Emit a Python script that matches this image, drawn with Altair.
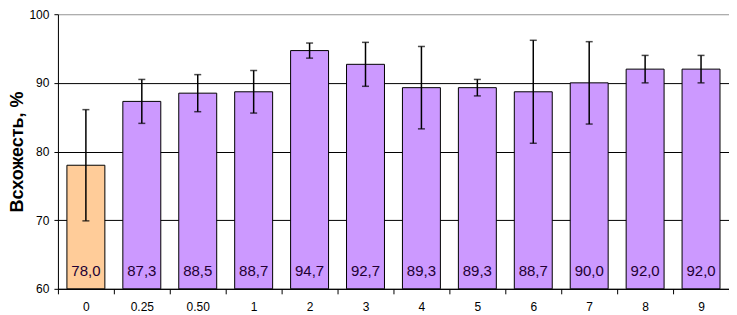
import altair as alt
import pandas as pd

cats = ["0", "0.25", "0.50", "1", "2", "3", "4", "5", "6", "7", "8", "9"]
values = [78.0, 87.3, 88.5, 88.7, 94.7, 92.7, 89.3, 89.3, 88.7, 90.0, 92.0, 92.0]
errors = [8.1, 3.2, 2.7, 3.1, 1.1, 3.2, 6.0, 1.2, 7.5, 6.0, 2.0, 2.0]
groups = ["control"] + ["treated"] * 11
y_ticks = [60, 70, 80, 90, 100]

df = pd.DataFrame({"cat": cats, "v": values, "err": errors, "grp": groups})
df["lo"] = df["v"] - df["err"]
df["hi"] = df["v"] + df["err"]

FONT = "Liberation Sans"

xs = alt.Scale(domain=cats, paddingInner=0, paddingOuter=0)
ys = alt.Scale(domain=[60, 100], nice=False, zero=False)

x_axis = alt.Axis(
    title=None, labelAngle=0, tickBand="extent", tickSize=5, tickColor="black",
    domainColor="black", labelFont=FONT, labelFontSize=12, labelColor="black",
    labelPadding=8, grid=False,
)
y_axis = alt.Axis(
    title="Всхожесть, %", values=y_ticks, tickSize=4, tickColor="black",
    domainColor="black", labelFont=FONT, labelFontSize=12, labelColor="black",
    labelPadding=5, titleFont=FONT, titleFontSize=18, titleFontWeight="bold",
    titleColor="black", titlePadding=2, grid=True,
    gridColor={"condition": {"test": "datum.value >= 100", "value": "#a0a0a0"}, "value": "#000000"},
)

base = alt.Chart(df)

bars = base.mark_bar(size=38, stroke="black", strokeWidth=1).encode(
    x=alt.X("cat:N", sort=cats, scale=xs, axis=x_axis),
    y=alt.Y("v:Q", scale=ys, axis=y_axis),
    y2=alt.datum(60),
    color=alt.Color("grp:N", scale=alt.Scale(domain=["control", "treated"], range=["#FFCC99", "#CC99FF"]), legend=None),
)

err_rule = base.mark_rule(color="black", strokeWidth=1.5).encode(
    x=alt.X("cat:N", sort=cats, scale=xs),
    y=alt.Y("lo:Q", scale=ys),
    y2="hi:Q",
)
cap_hi = base.mark_tick(color="black", size=7, thickness=1.5, orient="horizontal").encode(
    x=alt.X("cat:N", sort=cats, scale=xs),
    y=alt.Y("hi:Q", scale=ys),
)
cap_lo = base.mark_tick(color="black", size=7, thickness=1.5, orient="horizontal").encode(
    x=alt.X("cat:N", sort=cats, scale=xs),
    y=alt.Y("lo:Q", scale=ys),
)

labels = base.transform_calculate(
    lab="replace(format(datum.v, '.1f'), '.', ',')"
).mark_text(font=FONT, fontSize=15, color="#220033", baseline="bottom", dy=-10).encode(
    x=alt.X("cat:N", sort=cats, scale=xs),
    y=alt.datum(60),
    text="lab:N",
)

chart = alt.layer(bars, err_rule, cap_hi, cap_lo, labels).properties(
    width=672,
    height=275,
    autosize=alt.AutoSizeParams(type="none"),
    padding={"left": 50, "top": 6, "right": 0, "bottom": 26},
).configure_view(stroke="#a0a0a0", strokeWidth=1).configure(background="white")

chart.save("out.html", embed_options={"renderer": "svg", "actions": False})
